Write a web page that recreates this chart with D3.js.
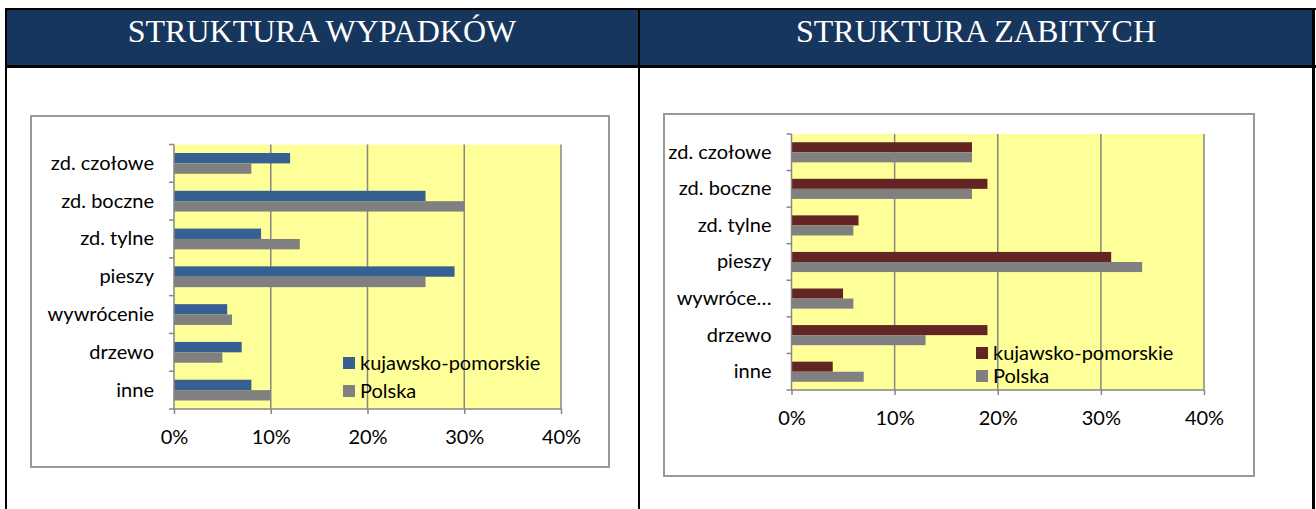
<!DOCTYPE html>
<html>
<head>
<meta charset="utf-8">
<style>
    body { margin: 0; background: #fff; }
    svg { display: block; }
    .title { font-family: 'Liberation Serif', 'Times New Roman', serif; font-size: 32px; fill: #fff; }
    .axis text, .legend text { font-family: Lato, 'Open Sans', sans-serif; font-size: 20px; fill: #000; }
    .axis .domain { display: none; }
    .grid line { stroke: #868686; stroke-width: 1.5; }
</style>
</head>
<body>
<div id="chart"></div>
<script src="https://cdnjs.cloudflare.com/ajax/libs/d3/7.8.5/d3.min.js"></script>
<script>
// categories (bottom label differs on the right chart, it is cut off there)
var categoriesWypadki = ["zd. czołowe", "zd. boczne", "zd. tylne", "pieszy", "wywrócenie", "drzewo", "inne"];
var categoriesZabici = ["zd. czołowe", "zd. boczne", "zd. tylne", "pieszy", "wywróce…", "drzewo", "inne"];
var seriesNames = ["kujawsko-pomorskie", "Polska"];

// shares, percent
var wypadkiKP = [12, 26, 9, 29, 5.5, 7, 8];
var wypadkiPL = [8, 30, 13, 26, 6, 5, 10];
var zabiciKP = [17.5, 19, 6.5, 31, 5, 19, 4];
var zabiciPL = [17.5, 17.5, 6, 34, 6, 13, 7];

var xTicks = [0, 10, 20, 30, 40];
var titles = ["STRUKTURA WYPADKÓW", "STRUKTURA ZABITYCH"];

var W = 1316, H = 509;
var svg = d3.select("#chart").append("svg").attr("width", W).attr("height", H);

// table frame and header
svg.append("rect").attr("x", 6).attr("y", 9).attr("width", 1307).attr("height", 57).attr("fill", "#17365d");
var frame = svg.append("g").attr("stroke", "#000");
frame.append("line").attr("x1", 5).attr("x2", 1316).attr("y1", 9).attr("y2", 9).attr("stroke-width", 2);
frame.append("line").attr("x1", 5).attr("x2", 1316).attr("y1", 66.5).attr("y2", 66.5).attr("stroke-width", 3);
frame.append("line").attr("x1", 6).attr("x2", 6).attr("y1", 8).attr("y2", H).attr("stroke-width", 2);
frame.append("line").attr("x1", 639).attr("x2", 639).attr("y1", 8).attr("y2", H).attr("stroke-width", 2);
frame.append("line").attr("x1", 1313.5).attr("x2", 1313.5).attr("y1", 8).attr("y2", H).attr("stroke-width", 3);

svg.append("text").attr("class", "title").attr("x", 322).attr("y", 42).attr("text-anchor", "middle").text(titles[0]);
svg.append("text").attr("class", "title").attr("x", 976).attr("y", 42).attr("text-anchor", "middle").text(titles[1]);

function drawChart(o) {
    // outer box of the chart
    svg.append("rect")
        .attr("x", o.box[0]).attr("y", o.box[1])
        .attr("width", o.box[2]).attr("height", o.box[3])
        .attr("fill", "#fff").attr("stroke", "#999").attr("stroke-width", 2);

    var g = svg.append("g").attr("transform", "translate(" + o.left + "," + o.top + ")");

    var x = d3.scaleLinear().domain([0, 40]).range([0, o.width]);
    var y = d3.scaleBand().domain(o.categories).range([0, o.height]).paddingInner(0.45).paddingOuter(0.225);
    var ySub = d3.scaleBand().domain(seriesNames).range([0, y.bandwidth()]);

    g.append("rect").attr("width", o.width).attr("height", o.height).attr("fill", "#ffff99");

    g.append("g").attr("class", "grid")
        .selectAll("line").data(xTicks.slice(1)).enter().append("line")
        .attr("x1", function(d) { return x(d); }).attr("x2", function(d) { return x(d); })
        .attr("y1", 0).attr("y2", o.height);

    var rows = o.categories.map(function(c, i) {
        return { cat: c, vals: [o.kp[i], o.pl[i]] };
    });

    var row = g.selectAll(".row").data(rows).enter().append("g")
        .attr("transform", function(d) { return "translate(0," + y(d.cat) + ")"; });

    row.selectAll("rect").data(function(d) {
        return d.vals.map(function(v, j) { return { s: seriesNames[j], v: v }; });
    }).enter().append("rect")
        .attr("x", 0)
        .attr("y", function(d) { return ySub(d.s); })
        .attr("width", function(d) { return x(d.v); })
        .attr("height", ySub.bandwidth())
        .attr("fill", function(d, j) { return o.colors[j]; });

    // y axis: line + ticks on the category boundaries
    var ax = g.append("g").attr("stroke", "#868686").attr("stroke-width", 1.5);
    ax.append("line").attr("x1", 0).attr("x2", 0).attr("y1", 0).attr("y2", o.height);
    ax.selectAll(".tk").data(d3.range(o.categories.length + 1)).enter().append("line")
        .attr("x1", -5).attr("x2", 0)
        .attr("y1", function(i) { return i * y.step(); })
        .attr("y2", function(i) { return i * y.step(); });
    ax.append("line").attr("x1", 0).attr("x2", o.width).attr("y1", o.height).attr("y2", o.height);

    g.append("g").attr("class", "axis")
        .call(d3.axisLeft(y).tickSize(0).tickPadding(20));

    var xa = g.append("g").attr("class", "axis")
        .attr("transform", "translate(0," + o.height + ")")
        .call(d3.axisBottom(x).tickValues(xTicks).tickSize(5).tickPadding(16)
            .tickFormat(function(d) { return d + "%"; }));
    xa.selectAll(".tick line").attr("stroke", "#868686").attr("stroke-width", 1.5);

    // legend
    var lg = svg.append("g").attr("class", "legend")
        .attr("transform", "translate(" + o.legend[0] + "," + o.legend[1] + ")");
    seriesNames.forEach(function(s, j) {
        lg.append("rect").attr("x", 0).attr("y", j * o.legend[2] - 6)
            .attr("width", 12).attr("height", 12).attr("fill", o.colors[j]);
        lg.append("text").attr("x", 17).attr("y", j * o.legend[2]).attr("dy", "0.35em").text(s);
    });
}

drawChart({
    box: [31, 116, 578, 351],
    left: 174, top: 144.5, width: 387, height: 264.5,
    categories: categoriesWypadki, kp: wypadkiKP, pl: wypadkiPL,
    colors: ["#366092", "#808080"],
    legend: [343, 363, 28]
});

drawChart({
    box: [664, 114, 590, 362],
    left: 791.5, top: 134, width: 412.5, height: 256,
    categories: categoriesZabici, kp: zabiciKP, pl: zabiciPL,
    colors: ["#632523", "#808080"],
    legend: [976, 353, 23]
});
</script>
</body>
</html>
